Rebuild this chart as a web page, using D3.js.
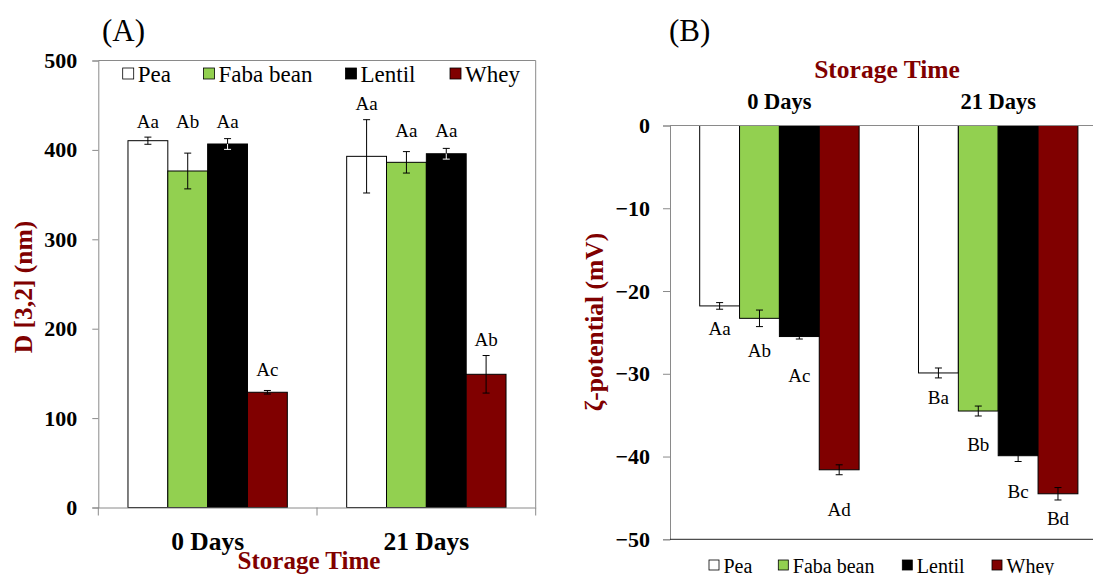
<!DOCTYPE html>
<html>
<head>
<meta charset="utf-8">
<script src="https://cdn.jsdelivr.net/npm/d3@7"></script>
<style>
  html, body { margin: 0; padding: 0; background: #fff; }
  svg { display: block; font-family: "Liberation Serif", "Times New Roman", serif; }
</style>
</head>
<body>
<svg id="chart" width="1093" height="575"></svg>
<script>
// ---------- data ----------
const groups = ["0 Days", "21 Days"];
const series = ["Pea", "Faba bean", "Lentil", "Whey"];
const seriesColors = ["#FFFFFF", "#92D050", "#000000", "#800000"];

// Panel A: D[3,2] (nm), rows = series, columns = groups
const d32Mean = [[410.3, 392.8], [376.4, 386.1], [406.6, 395.7], [128.9, 149.0]];
const d32Err  = [[4, 41], [20, 12], [6, 6], [2, 21]];
const d32Letters = [["Aa", "Aa"], ["Ab", "Aa"], ["Aa", "Aa"], ["Ac", "Ab"]];
const d32LetterAt = [[424.5, 444.6], [424.5, 414.4], [424.5, 414.4], [147, 181]];
const d32Ticks = [0, 100, 200, 300, 400, 500];

// Panel B: zeta-potential (mV)
const zetaMean = [[-21.8, -29.9], [-23.3, -34.5], [-25.5, -39.9], [-41.6, -44.5]];
const zetaErr  = [[0.4, 0.6], [1.0, 0.6], [0.3, 0.7], [0.6, 0.75]];
const zetaLetters = [["Aa", "Ba"], ["Ab", "Bb"], ["Ac", "Bc"], ["Ad", "Bd"]];
const zetaLetterAt = [[-25.3, -33.65], [-27.95, -39.3], [-31.0, -45.0], [-47.2, -48.3]];
const zetaTicks = [0, -10, -20, -30, -40, -50];

// ---------- styles ----------
const DARKRED = "#800000";
const GRAY = "#8a8a8a";
const svg = d3.select("#chart");

function buildRows(mean, err, letters, letterAt) {
  const rows = [];
  series.forEach((s, si) => groups.forEach((g, gi) => {
    rows.push({ s, si, g, gi, v: mean[si][gi], e: err[si][gi], lab: letters[si][gi], labAt: letterAt[si][gi] });
  }));
  return rows;
}

// ================= Panel A =================
{
  const left = 98.3, right = 535.7, top = 60.5, bottom = 507.5;
  const x0 = d3.scaleBand().domain(groups).range([left, right]);
  const x1 = d3.scaleBand().domain(series).range([0, x0.bandwidth()]).paddingOuter(0.745);
  const y = d3.scaleLinear().domain([0, 500]).range([bottom, top]);
  const g = svg.append("g");

  g.append("path").attr("d", `M${left},${top}H${right}V${bottom}`)
    .attr("fill", "none").attr("stroke", GRAY).attr("stroke-width", 1);

  const rows = buildRows(d32Mean, d32Err, d32Letters, d32LetterAt);
  g.selectAll("rect.bar").data(rows).join("rect")
    .attr("x", d => x0(d.g) + x1(d.s))
    .attr("width", x1.bandwidth())
    .attr("y", d => y(d.v))
    .attr("height", d => y(0) - y(d.v))
    .attr("fill", d => seriesColors[d.si])
    .attr("stroke", "#000").attr("stroke-width", 1);

  const eb = g.selectAll("g.eb").data(rows).join("g")
    .attr("transform", d => `translate(${x0(d.g) + x1(d.s) + x1.bandwidth() / 2},0)`);
  eb.append("line").attr("y1", d => y(d.v - d.e)).attr("y2", d => y(d.v + d.e))
    .attr("stroke", d => d.si === 2 ? "#fff" : "#000").attr("stroke-width", 1);
  eb.append("line").attr("x1", -3.5).attr("x2", 3.5).attr("y1", d => y(d.v + d.e)).attr("y2", d => y(d.v + d.e))
    .attr("stroke", "#000");
  eb.append("line").attr("x1", -3.5).attr("x2", 3.5).attr("y1", d => y(d.v - d.e)).attr("y2", d => y(d.v - d.e))
    .attr("stroke", d => d.si === 2 ? "#fff" : "#000");
  eb.filter(d => d.si === 2).append("line")
    .attr("y1", d => y(d.v)).attr("y2", d => y(d.v + d.e)).attr("stroke", "#000");

  g.selectAll("text.lab").data(rows).join("text")
    .attr("x", d => x0(d.g) + x1(d.s) + x1.bandwidth() / 2)
    .attr("y", d => y(d.labAt))
    .attr("text-anchor", "middle").attr("font-size", 19).attr("fill", "#000")
    .text(d => d.lab);

  const ya = g.append("g").attr("transform", `translate(${left},0)`)
    .call(d3.axisLeft(y).tickValues(d32Ticks).tickSize(6).tickPadding(15));
  ya.select(".domain").attr("stroke", GRAY);
  ya.selectAll(".tick line").attr("stroke", GRAY);
  ya.selectAll(".tick text").attr("font-family", "Liberation Serif, serif")
    .attr("font-size", 22).attr("font-weight", "bold").attr("fill", "#000");

  const xa = g.append("g").attr("transform", `translate(0,${bottom})`)
    .call(d3.axisBottom(x0).tickSize(0).tickPadding(24));
  xa.select(".domain").attr("stroke", GRAY);
  xa.selectAll(".tick text").attr("font-family", "Liberation Serif, serif")
    .attr("font-size", 25.5).attr("font-weight", "bold").attr("fill", "#000");
  g.selectAll("line.xt").data([left, x0(groups[1]), right]).join("line")
    .attr("x1", d => d).attr("x2", d => d).attr("y1", bottom).attr("y2", bottom + 8)
    .attr("stroke", GRAY);

  g.append("text").attr("x", 309).attr("y", 569).attr("text-anchor", "middle")
    .attr("font-size", 25).attr("font-weight", "bold").attr("fill", DARKRED).text("Storage Time");
  g.append("text").attr("transform", "translate(32,287) rotate(-90)").attr("text-anchor", "middle")
    .attr("font-size", 25.5).attr("font-weight", "bold").attr("fill", DARKRED).text("D [3,2] (nm)");
  g.append("text").attr("x", 102).attr("y", 41).attr("font-size", 31).attr("fill", "#000").text("(A)");

  const legX = [122.7, 203.5, 345.5, 450];
  const leg = g.selectAll("g.leg").data(series).join("g")
    .attr("transform", (d, i) => `translate(${legX[i]},68)`);
  leg.append("rect").attr("width", 11).attr("height", 11)
    .attr("fill", (d, i) => seriesColors[i]).attr("stroke", "#000").attr("stroke-width", 0.8);
  leg.append("text").attr("x", 15).attr("y", 13.5).attr("font-size", 23).attr("fill", "#000").text(d => d);
}

// ================= Panel B =================
{
  const left = 670, bw = 218.8, zeroY = 125.5, bottom = 539.3;
  const x0 = d3.scaleBand().domain(groups).range([left, left + 2 * bw]);
  const x1 = d3.scaleBand().domain(series).range([0, x0.bandwidth()]).paddingOuter(0.745);
  const y = d3.scaleLinear().domain([-50, 0]).range([bottom, zeroY]);
  const g = svg.append("g");

  const rows = buildRows(zetaMean, zetaErr, zetaLetters, zetaLetterAt);
  g.selectAll("rect.bar").data(rows).join("rect")
    .attr("x", d => x0(d.g) + x1(d.s))
    .attr("width", x1.bandwidth())
    .attr("y", y(0))
    .attr("height", d => y(d.v) - y(0))
    .attr("fill", d => seriesColors[d.si])
    .attr("stroke", "#000").attr("stroke-width", 1);

  const eb = g.selectAll("g.eb").data(rows).join("g")
    .attr("transform", d => `translate(${x0(d.g) + x1(d.s) + x1.bandwidth() / 2},0)`);
  eb.append("line").attr("y1", d => y(d.v + d.e)).attr("y2", d => y(d.v - d.e)).attr("stroke", "#000");
  eb.append("line").attr("x1", -3.5).attr("x2", 3.5).attr("y1", d => y(d.v + d.e)).attr("y2", d => y(d.v + d.e)).attr("stroke", "#000");
  eb.append("line").attr("x1", -3.5).attr("x2", 3.5).attr("y1", d => y(d.v - d.e)).attr("y2", d => y(d.v - d.e)).attr("stroke", "#000");

  g.selectAll("text.lab").data(rows).join("text")
    .attr("x", d => x0(d.g) + x1(d.s) + x1.bandwidth() / 2)
    .attr("y", d => y(d.labAt))
    .attr("text-anchor", "middle").attr("font-size", 19).attr("fill", "#000")
    .text(d => d.lab);

  const ya = g.append("g").attr("transform", `translate(${left},0)`)
    .call(d3.axisLeft(y).tickValues(zetaTicks).tickSize(7).tickPadding(13).tickFormat(d3.format("d")));
  ya.select(".domain").attr("stroke", GRAY);
  ya.selectAll(".tick line").attr("stroke", GRAY);
  ya.selectAll(".tick text").attr("font-family", "Liberation Serif, serif")
    .attr("font-size", 22).attr("font-weight", "bold").attr("fill", "#000");

  const xa = g.append("g").attr("transform", `translate(0,${zeroY})`)
    .call(d3.axisTop(x0).tickSize(0).tickPadding(17));
  xa.select(".domain").remove();
  xa.selectAll(".tick text").attr("font-family", "Liberation Serif, serif")
    .attr("font-size", 22.5).attr("font-weight", "bold").attr("fill", "#000");
  g.append("line").attr("x1", left).attr("x2", 1093).attr("y1", zeroY).attr("y2", zeroY).attr("stroke", GRAY);
  g.append("line").attr("x1", left).attr("x2", 1093).attr("y1", bottom).attr("y2", bottom).attr("stroke", "#222");

  g.append("text").attr("x", 887).attr("y", 78).attr("text-anchor", "middle")
    .attr("font-size", 25.5).attr("font-weight", "bold").attr("fill", DARKRED).text("Storage Time");
  g.append("text").attr("transform", "translate(603,322) rotate(-90)").attr("text-anchor", "middle")
    .attr("font-size", 25.5).attr("font-weight", "bold").attr("fill", DARKRED).text("ζ-potential (mV)");
  g.append("text").attr("x", 669).attr("y", 41).attr("font-size", 31).attr("fill", "#000").text("(B)");

  const legX = [709, 778.3, 902.3, 992];
  const leg = g.selectAll("g.leg").data(series).join("g")
    .attr("transform", (d, i) => `translate(${legX[i]},560)`);
  leg.append("rect").attr("width", 10).attr("height", 10)
    .attr("fill", (d, i) => seriesColors[i]).attr("stroke", "#000").attr("stroke-width", 0.8);
  leg.append("text").attr("x", 14.5).attr("y", 12.5).attr("font-size", 20).attr("fill", "#000").text(d => d);
}
</script>
</body>
</html>
